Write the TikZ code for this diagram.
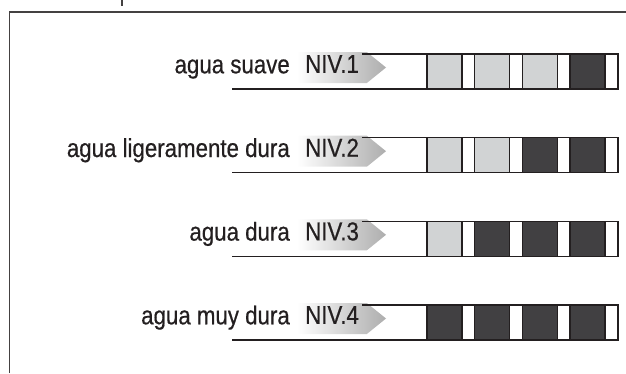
\documentclass[tikz,border=0pt]{standalone}
\usepackage{fontspec}
\setmainfont[FakeStretch=0.86, FakeBold=0.5]{Liberation Sans}
\usetikzlibrary{positioning, shapes.symbols}
\definecolor{inkc}{HTML}{231F20}
\definecolor{softc}{HTML}{D1D3D4}
\definecolor{hardc}{HTML}{414042}
\tikzset{
    lvltext/.style={
        anchor=base east,
        inner sep=0pt,
        text=inkc,
        font=\fontsize{26}{30}\selectfont
    },
    nivtag/.style={
        signal,
        signal to=east,
        signal pointer angle=78,
        left color=white,
        right color=black!32,
        minimum height=31bp,
        text depth=7bp,
        inner xsep=8bp,
        inner ysep=0pt,
        anchor=west,
        text=inkc,
        font=\fontsize{26}{30}\selectfont
    },
    softsq/.style={
        draw=inkc,
        fill=softc,
        line width=1.5bp,
        minimum size=35bp,
        inner sep=0pt,
        outer sep=0pt
    },
    hardsq/.style={softsq, fill=hardc},
    strip/.style={draw=inkc, line width=1.5bp},
    frame/.style={draw=inkc!85, line width=1.2bp}
}
\begin{document}
\begin{tikzpicture}[x=1bp, y=1bp, node distance=12.7bp]
\useasboundingbox (0,0) rectangle (626,373);

% outer frame
\draw[frame] (9.5,0) -- (9.5,361) -- (626,361);
\draw[frame] (122,373) -- (122,367);

% level 1
\node[nivtag] (niv1) at (297,305.5) {NIV.1};
\node[lvltext] (lbl1) at (290,299.7) {agua suave};
\draw[strip] (232,284) -- (618,284) -- (618,319) -- (362,319);
\node[softsq] (s1a) at (444.5,301.5) {};
\node[softsq, right=of s1a] (s1b) {};
\node[softsq, right=of s1b] (s1c) {};
\node[hardsq, right=of s1c] (s1d) {};

% level 2
\node[nivtag] (niv2) at (297,221.8) {NIV.2};
\node[lvltext] (lbl2) at (290,216.0) {agua ligeramente dura};
\draw[strip] (232,200.3) -- (618,200.3) -- (618,235.3) -- (362,235.3);
\node[softsq] (s2a) at (444.5,217.8) {};
\node[softsq, right=of s2a] (s2b) {};
\node[hardsq, right=of s2b] (s2c) {};
\node[hardsq, right=of s2c] (s2d) {};

% level 3
\node[nivtag] (niv3) at (297,138.2) {NIV.3};
\node[lvltext] (lbl3) at (290,132.4) {agua dura};
\draw[strip] (232,116.7) -- (618,116.7) -- (618,151.7) -- (362,151.7);
\node[softsq] (s3a) at (444.5,134.2) {};
\node[hardsq, right=of s3a] (s3b) {};
\node[hardsq, right=of s3b] (s3c) {};
\node[hardsq, right=of s3c] (s3d) {};

% level 4
\node[nivtag] (niv4) at (297,54.5) {NIV.4};
\node[lvltext] (lbl4) at (290,48.7) {agua muy dura};
\draw[strip] (232,33) -- (618,33) -- (618,68) -- (362,68);
\node[hardsq] (s4a) at (444.5,50.5) {};
\node[hardsq, right=of s4a] (s4b) {};
\node[hardsq, right=of s4b] (s4c) {};
\node[hardsq, right=of s4c] (s4d) {};
\end{tikzpicture}
\end{document}
